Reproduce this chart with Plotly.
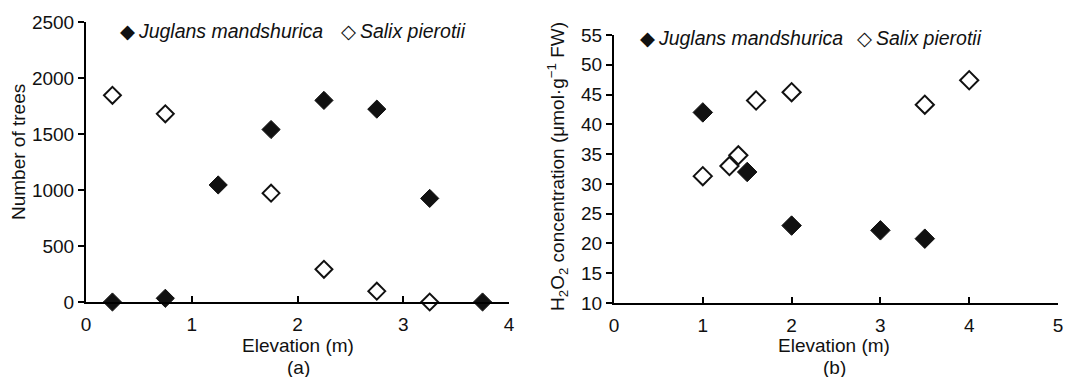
import plotly.graph_objects as go

# ---- data ----
# Panel (a): number of trees vs elevation
a_jug_x = [0.25, 0.75, 1.25, 1.75, 2.25, 2.75, 3.25, 3.75]
a_jug_y = [0, 33, 1045, 1540, 1800, 1722, 925, 0]
a_sal_x = [0.25, 0.75, 1.75, 2.25, 2.75, 3.25]
a_sal_y = [1845, 1680, 972, 292, 97, 0]

# Panel (b): H2O2 concentration vs elevation
b_jug_x = [1.0, 1.5, 2.0, 3.0, 3.5]
b_jug_y = [42.0, 32.0, 23.0, 22.2, 20.8]
b_sal_x = [1.0, 1.3, 1.4, 1.6, 2.0, 3.5, 4.0]
b_sal_y = [31.3, 33.0, 34.8, 44.0, 45.4, 43.3, 47.4]

a_xticks = [0, 1, 2, 3, 4]
a_yticks = [0, 500, 1000, 1500, 2000, 2500]
b_xticks = [0, 1, 2, 3, 4, 5]
b_yticks = [10, 15, 20, 25, 30, 35, 40, 45, 50, 55]

sp_names = ["Juglans mandshurica", "Salix pierotii"]

W, H = 1091, 377
FONT = "Arial, Liberation Sans, sans-serif"
FS = 19


def px(x):
    return x / W


def py(y):
    return 1 - y / H


fig = go.Figure()


def filled(s):
    return dict(symbol="diamond", size=s, color="#111111",
                line=dict(color="#111111", width=1))


def hollow(s):
    return dict(symbol="diamond", size=s, color="white",
                line=dict(color="#111111", width=2))


fig.add_trace(go.Scatter(x=a_jug_x, y=a_jug_y, mode="markers", marker=filled(14),
                         xaxis="x", yaxis="y", cliponaxis=False, showlegend=False))
fig.add_trace(go.Scatter(x=a_sal_x, y=a_sal_y, mode="markers", marker=hollow(13),
                         xaxis="x", yaxis="y", cliponaxis=False, showlegend=False))
fig.add_trace(go.Scatter(x=b_jug_x, y=b_jug_y, mode="markers", marker=filled(15),
                         xaxis="x2", yaxis="y2", cliponaxis=False, showlegend=False))
fig.add_trace(go.Scatter(x=b_sal_x, y=b_sal_y, mode="markers", marker=hollow(14),
                         xaxis="x2", yaxis="y2", cliponaxis=False, showlegend=False))

axis_common = dict(showgrid=False, zeroline=False, showline=True,
                   linecolor="black", linewidth=2, tickcolor="black",
                   tickwidth=2, ticklen=6, automargin=False,
                   tickfont=dict(family=FONT, size=FS, color="#111111"))

fig.update_layout(
    width=W, height=H,
    margin=dict(l=0, r=0, t=0, b=0, pad=0),
    paper_bgcolor="white", plot_bgcolor="white",
    showlegend=False,
    xaxis=dict(domain=[px(86), px(509)], range=[0, 4], tickvals=a_xticks,
               ticks="inside", anchor="y", ticklabelstandoff=4, **axis_common),
    yaxis=dict(domain=[py(302), py(22)], range=[0, 2500], tickvals=a_yticks,
               ticks="outside", anchor="x", **axis_common),
    xaxis2=dict(domain=[px(614), px(1058)], range=[0, 5], tickvals=b_xticks,
                ticks="inside", anchor="y2", ticklabelstandoff=4, **axis_common),
    yaxis2=dict(domain=[py(303), py(35)], range=[10, 55], tickvals=b_yticks,
                ticks="outside", anchor="x2", **axis_common),
)

ann = []


def text(x, y, s, size=FS, angle=0, xanchor="center"):
    ann.append(dict(x=px(x), y=py(y), xref="paper", yref="paper", text=s,
                    showarrow=False, textangle=angle, xanchor=xanchor,
                    yanchor="middle",
                    font=dict(family=FONT, size=size, color="#111111")))


# axis titles
text(18, 152, "Number of trees", angle=-90)
text(298, 345, "Elevation (m)")
text(298, 367, "(a)")
text(557, 167, "H<sub>2</sub>O<sub>2</sub> concentration (μmol·g<sup>−1</sup> FW)", angle=-90)
text(834, 345, "Elevation (m)")
text(834, 367, "(b)")


# legends: glyph + italic species name in one text
def legend_item(x, y, glyph, name):
    s = ("<span style='font-family:DejaVu Sans'>" + glyph + "</span>"
         "\u2009<i>" + name + "</i>")
    text(x, y, s, size=19.5, xanchor="left")


legend_item(118, 31, "◆", sp_names[0])
legend_item(339, 31, "◇", sp_names[1])
legend_item(638, 38, "◆", sp_names[0])
legend_item(855, 38, "◇", sp_names[1])

fig.update_layout(annotations=ann)

fig.write_html("out.html")
